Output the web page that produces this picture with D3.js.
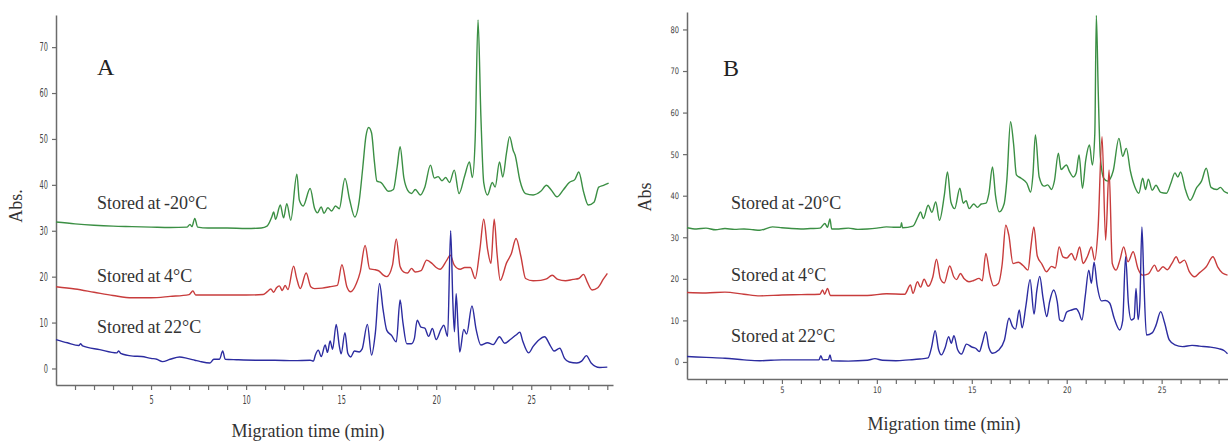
<!DOCTYPE html>
<html>
<head>
<meta charset="utf-8">
<script src="https://cdn.jsdelivr.net/npm/d3@7"></script>
<style>
  html, body { margin: 0; padding: 0; background: #fff; }
  svg { display: block; }
</style>
</head>
<body>
<svg id="chart" width="1228" height="441"></svg>
<script>
// storage temperatures (one trace each)
const labels = ["Stored at -20°C", "Stored at 4°C", "Stored at 22°C"];
const colors = ["#3b8f44", "#c83c3c", "#2c2ca0"];

// axis ticks
const xMajorTicks = [5, 10, 15, 20, 25];
const yTicksA = [0, 10, 20, 30, 40, 50, 60, 70];
const yTicksB = [0, 10, 20, 30, 40, 50, 60, 70, 80];

// panel A traces: [migration time (min), absorbance]
const traceA20 = [[0,31.9],[1,31.5],[2,31.2],[3,31.0],[4,30.9],[5,30.8],[6,30.7],[6.9,30.8],[7.05,31.4],[7.15,30.9],[7.3,32.7],[7.45,30.8],[8,30.6],[9,30.6],[10,30.5],[10.8,30.6],[11.1,31.0],[11.35,33.0],[11.45,34.1],[11.55,32.5],[11.8,35.6],[11.97,32.8],[12.14,35.9],[12.35,32.3],[12.67,42.3],[12.8,36.7],[13.0,35.4],[13.37,39.2],[13.6,34.9],[13.75,33.9],[13.95,35.2],[14.1,33.8],[14.3,35.0],[14.5,34.3],[14.7,35.4],[14.9,34.8],[15.2,41.4],[15.45,36.7],[15.72,33.0],[15.95,36.5],[16.14,43.9],[16.3,50.5],[16.45,52.5],[16.6,51.3],[16.75,45.0],[16.88,40.8],[17.1,40.5],[17.5,38.6],[17.75,39.0],[17.95,44.0],[18.1,48.3],[18.3,41.5],[18.5,38.8],[18.7,38.1],[18.9,39.0],[19.16,37.8],[19.4,39.5],[19.7,44.3],[19.9,41.5],[20.1,41.8],[20.3,40.9],[20.5,41.6],[20.7,40.5],[20.95,43.2],[21.2,38.1],[21.5,42.0],[21.75,45.0],[21.9,41.6],[22.05,50.0],[22.2,75.9],[22.35,55.0],[22.5,40.5],[22.7,37.8],[22.95,40.5],[23.1,39.5],[23.33,45.0],[23.5,41.7],[23.7,47.0],[23.86,50.5],[24.05,47.5],[24.15,46.5],[24.4,41.0],[24.7,38.1],[25.1,37.8],[25.5,38.6],[25.8,39.9],[26.05,38.9],[26.35,37.4],[26.7,39.0],[27.0,40.5],[27.3,41.2],[27.5,42.8],[27.75,38.5],[28.0,35.6],[28.3,36.2],[28.55,39.5],[28.8,39.9],[29.07,40.4]];
const traceA4 = [[0,17.8],[1,17.3],[2,16.6],[3,15.9],[4,15.4],[5,15.4],[6,15.7],[7,16.1],[7.1,16.5],[7.2,16.9],[7.35,16.0],[8,16.0],[9,16.0],[10,16.0],[10.9,16.1],[11.1,16.7],[11.3,17.3],[11.45,16.6],[11.6,17.6],[11.75,18.0],[11.9,17.0],[12.05,18.1],[12.2,17.2],[12.5,22.3],[12.65,19.8],[12.85,17.4],[13.16,20.8],[13.4,17.8],[13.6,17.4],[14.0,17.5],[14.4,17.8],[14.8,18.1],[15.04,22.6],[15.3,17.8],[15.5,16.7],[15.8,18.5],[16.0,21.0],[16.26,26.8],[16.5,21.7],[16.8,21.5],[17.0,21.2],[17.2,20.4],[17.4,20.0],[17.7,22.5],[17.9,28.2],[18.1,22.2],[18.3,21.0],[18.5,20.8],[18.7,21.8],[18.9,21.0],[19.2,21.3],[19.5,23.6],[19.8,22.8],[20.0,22.0],[20.2,21.6],[20.56,23.6],[20.74,24.7],[20.95,22.5],[21.26,21.6],[21.5,22.0],[21.8,22.0],[22.05,19.6],[22.3,26.0],[22.5,32.5],[22.7,26.0],[22.88,22.9],[23.05,32.5],[23.2,25.0],[23.37,19.2],[23.7,23.0],[23.95,25.0],[24.2,28.3],[24.45,24.5],[24.7,19.6],[25.1,19.1],[25.5,19.2],[25.8,19.5],[26.1,20.3],[26.4,19.4],[26.8,19.1],[27.2,19.4],[27.5,19.6],[27.75,20.5],[27.95,18.8],[28.2,17.1],[28.5,17.6],[28.8,19.5],[29.0,20.7]];
const traceA22 = [[0,6.3],[0.6,5.6],[1.2,5.0],[1.3,5.4],[1.4,4.9],[2.3,4.1],[3.2,3.4],[3.3,3.8],[3.4,3.3],[4.05,2.7],[4.5,2.6],[5.0,2.2],[5.3,2.0],[5.6,1.5],[6.0,2.0],[6.5,2.5],[6.9,2.2],[7.3,1.8],[7.6,1.5],[8.1,1.2],[8.3,2.0],[8.6,2.0],[8.77,3.8],[8.9,2.0],[9.5,1.9],[10.5,1.8],[11.5,1.8],[12.5,1.7],[13.37,1.8],[13.54,1.6],[13.65,3.0],[13.8,4.0],[13.95,2.6],[14.16,5.1],[14.28,3.5],[14.42,6.0],[14.55,4.2],[14.74,9.6],[14.9,5.0],[15.0,3.2],[15.2,7.8],[15.35,3.3],[15.5,2.5],[15.7,3.8],[15.95,3.6],[16.1,4.2],[16.38,9.6],[16.6,2.9],[16.8,7.8],[17.02,18.5],[17.2,13.0],[17.4,8.3],[17.65,7.2],[17.9,5.8],[18.1,14.9],[18.25,10.0],[18.45,5.4],[18.7,5.4],[18.85,6.5],[19.0,10.5],[19.2,9.0],[19.4,8.8],[19.6,7.0],[19.8,8.7],[20.0,6.3],[20.25,8.5],[20.4,9.4],[20.6,7.0],[20.76,30.0],[20.88,14.0],[20.96,8.0],[21.05,16.3],[21.15,9.0],[21.24,3.6],[21.45,8.5],[21.6,7.5],[21.88,13.6],[22.1,8.5],[22.35,5.1],[22.7,5.6],[23.0,5.2],[23.33,6.9],[23.6,5.5],[23.9,6.3],[24.2,7.3],[24.4,7.9],[24.55,6.0],[24.86,3.4],[25.1,4.8],[25.4,6.2],[25.7,6.9],[26.0,5.0],[26.2,3.8],[26.5,4.4],[26.75,2.2],[27.0,1.4],[27.4,1.2],[27.65,1.6],[27.9,2.8],[28.15,1.2],[28.6,0.2],[29.0,0.3]];

// panel B traces
const traceB20 = [[0,32.3],[0.5,32.0],[1,32.2],[1.5,31.8],[2,32.1],[2.5,31.9],[3,32.0],[3.5,31.8],[3.84,31.7],[4.5,32.5],[5,32.3],[5.5,32.1],[6,32.0],[6.5,32.1],[7.0,32.2],[7.26,33.3],[7.4,32.4],[7.53,34.4],[7.62,32.0],[8,32.0],[8.5,32.2],[9,31.9],[9.5,32.0],[10,32.2],[10.5,32.5],[11,32.4],[11.25,32.4],[11.3,33.5],[11.35,32.3],[11.9,32.7],[12.17,35.0],[12.3,36.1],[12.45,34.5],[12.7,37.7],[12.9,36.0],[13.1,38.5],[13.3,34.1],[13.55,40.0],[13.72,45.7],[13.9,38.5],[14.1,36.9],[14.37,41.8],[14.55,38.2],[14.7,38.8],[14.86,36.9],[15.1,38.0],[15.3,37.2],[15.5,38.0],[15.75,38.2],[15.9,40.5],[16.09,46.9],[16.25,40.0],[16.45,36.1],[16.7,38.0],[16.85,44.0],[17.04,57.8],[17.2,52.5],[17.35,45.0],[17.6,44.2],[17.9,43.0],[18.1,40.9],[18.22,45.0],[18.35,54.6],[18.55,44.5],[18.8,42.3],[19.0,42.6],[19.2,41.5],[19.35,43.5],[19.56,50.2],[19.7,46.3],[19.98,47.4],[20.15,45.8],[20.35,44.5],[20.5,45.5],[20.65,49.8],[20.83,41.8],[21.0,48.5],[21.2,52.2],[21.35,47.4],[21.48,55.0],[21.56,83.4],[21.66,65.0],[21.77,49.4],[21.95,44.2],[22.15,43.5],[22.45,46.0],[22.75,53.8],[22.95,49.5],[23.14,51.4],[23.35,46.0],[23.6,42.0],[23.8,40.6],[24.0,44.2],[24.15,41.5],[24.3,44.0],[24.5,41.3],[24.7,42.5],[24.95,40.8],[25.25,40.6],[25.5,43.2],[25.7,45.5],[25.85,44.5],[26.0,45.7],[26.25,41.5],[26.5,38.9],[26.85,42.0],[27.1,43.5],[27.35,46.6],[27.6,42.0],[27.9,41.5],[28.1,42.0],[28.3,41.0],[28.5,40.6]];
const traceB4 = [[0,16.7],[1,16.6],[2,16.8],[3,16.3],[3.84,15.9],[5,16.1],[6,16.2],[7.0,16.3],[7.14,17.3],[7.25,16.3],[7.4,17.7],[7.55,16.0],[8.5,16.0],[9.5,16.0],[10.5,16.4],[11.47,16.3],[11.77,18.5],[11.9,16.5],[12.14,19.3],[12.3,18.0],[12.49,19.9],[12.7,18.2],[12.95,20.5],[13.14,24.7],[13.35,20.0],[13.55,19.0],[13.84,23.1],[14.05,20.5],[14.2,19.8],[14.4,21.3],[14.6,20.0],[14.85,19.3],[15.1,19.6],[15.38,20.1],[15.55,19.5],[15.74,26.1],[15.95,21.0],[16.15,18.3],[16.4,18.9],[16.6,23.5],[16.79,32.9],[16.95,30.5],[17.17,23.7],[17.45,24.0],[17.7,23.2],[17.96,22.1],[18.12,28.0],[18.27,32.5],[18.45,25.5],[18.7,23.5],[18.93,21.7],[19.2,23.0],[19.4,22.6],[19.6,27.7],[19.8,25.3],[20.0,25.0],[20.25,26.1],[20.45,24.5],[20.68,27.7],[20.86,23.7],[21.1,25.5],[21.3,27.7],[21.47,24.5],[21.65,32.0],[21.86,54.2],[22.05,29.3],[22.23,46.2],[22.4,23.7],[22.6,22.1],[22.8,24.5],[23.0,27.7],[23.23,24.1],[23.5,26.5],[23.75,22.5],[24.0,20.9],[24.3,21.2],[24.63,23.3],[24.8,21.8],[25.07,22.9],[25.3,22.2],[25.55,23.8],[25.77,25.3],[25.95,23.8],[26.2,24.5],[26.45,21.8],[26.74,20.5],[27.0,21.5],[27.35,22.9],[27.7,25.3],[27.95,22.9],[28.2,21.4],[28.47,20.9]];
const traceB22 = [[0,1.3],[1,1.1],[2,0.9],[3,0.5],[3.84,0.3],[5,0.5],[6,0.5],[6.95,0.5],[7.05,1.5],[7.15,0.5],[7.45,0.6],[7.53,1.7],[7.62,0.3],[8.5,0.2],[9.5,0.4],[9.9,0.8],[10.3,0.4],[11,0.3],[11.7,0.5],[12.26,0.7],[12.7,1.0],[12.88,3.5],[13.07,7.5],[13.25,3.0],[13.4,1.7],[13.6,3.5],[13.78,6.1],[13.92,4.5],[14.06,6.3],[14.25,3.0],[14.46,1.9],[14.72,4.3],[15.0,3.6],[15.2,3.3],[15.4,2.5],[15.55,4.5],[15.74,7.3],[15.9,3.5],[16.1,2.1],[16.4,2.8],[16.72,5.3],[16.96,10.5],[17.15,8.5],[17.3,7.9],[17.5,12.5],[17.65,8.2],[17.85,13.5],[18.07,19.8],[18.28,11.5],[18.42,17.0],[18.58,20.6],[18.75,15.5],[18.95,10.9],[19.1,14.5],[19.31,17.3],[19.5,14.5],[19.63,10.1],[19.8,9.8],[20.0,12.0],[20.25,12.5],[20.5,12.8],[20.65,11.8],[20.8,10.1],[20.98,16.0],[21.16,22.1],[21.3,18.9],[21.44,24.0],[21.6,18.5],[21.83,14.7],[22.05,14.8],[22.26,14.2],[22.5,10.5],[22.79,7.7],[22.95,10.0],[23.1,25.3],[23.25,14.0],[23.4,10.1],[23.55,10.5],[23.65,17.7],[23.76,10.2],[23.85,14.0],[23.96,32.5],[24.06,20.0],[24.2,6.5],[24.5,7.0],[24.7,8.8],[24.95,12.1],[25.15,9.5],[25.4,5.3],[25.7,4.1],[26.1,3.7],[26.6,4.0],[27.0,3.8],[27.5,3.6],[28.0,3.2],[28.3,2.7],[28.47,2.0]];

const panels = [
  {
    letter: "A", yTitle: "Abs.", traces: [traceA20, traceA4, traceA22],
    xDomain: [0, 29.3], xRange: [56, 613],
    yDomain: [-3.6, 77], yRange: [385, 15], yTicks: yTicksA,
    tickFont: 12, tickSqueeze: 0.55,
    letterPos: [97, 75], yTitlePos: [22, 206], xTitlePos: [308, 437],
    labelX: 97, labelY: [209, 282, 333],
  },
  {
    letter: "B", yTitle: "Abs", traces: [traceB20, traceB4, traceB22],
    xDomain: [0, 28.6], xRange: [687, 1230],
    yDomain: [-4.1, 84.2], yRange: [379, 12], yTicks: yTicksB,
    tickFont: 9, tickSqueeze: 0.75,
    letterPos: [723, 76], yTitlePos: [651, 197], xTitlePos: [944, 430],
    labelX: 731, labelY: [209, 281, 342],
  },
];

const svg = d3.select("#chart");
const AXIS_COLOR = "#6b6b6b";
const SERIF = "'Liberation Serif', 'DejaVu Serif', serif";

function drawPanel(p) {
  const x = d3.scaleLinear().domain(p.xDomain).range(p.xRange);
  const y = d3.scaleLinear().domain(p.yDomain).range(p.yRange);
  const g = svg.append("g");

  const xAxis = d3.axisBottom(x)
    .tickValues(d3.range(1, Math.floor(p.xDomain[1]) + 1))
    .tickSize(5)
    .tickSizeOuter(0)
    .tickFormat((d) => (xMajorTicks.includes(d) ? d : ""));

  const gx = g.append("g")
    .attr("transform", `translate(0,${p.yRange[0]})`)
    .call(xAxis);

  const yAxis = d3.axisLeft(y)
    .tickValues(p.yTicks)
    .tickSize(4)
    .tickSizeOuter(0);

  const gy = g.append("g")
    .attr("transform", `translate(${p.xRange[0]},0)`)
    .call(yAxis);

  [gx, gy].forEach((ax) => {
    ax.select(".domain").attr("stroke", AXIS_COLOR).attr("stroke-width", 1.5);
    ax.selectAll(".tick line").attr("stroke", AXIS_COLOR).attr("stroke-width", 1.2);
    ax.selectAll(".tick text")
      .attr("fill", "#444")
      .attr("font-family", "'DejaVu Sans', sans-serif")
      .attr("font-size", p.tickFont);
  });
  gx.selectAll(".tick text")
    .attr("y", p.tickFont === 12 ? 10 : 8)
    .attr("transform", `scale(${p.tickSqueeze},1)`);
  gy.selectAll(".tick text")
    .attr("x", -8 / p.tickSqueeze)
    .attr("transform", `scale(${p.tickSqueeze},1)`);

  const line = d3.line()
    .x((d) => x(d[0]))
    .y((d) => y(d[1]))
    .curve(d3.curveMonotoneX);

  p.traces.forEach((trace, i) => {
    g.append("path")
      .datum(trace)
      .attr("fill", "none")
      .attr("stroke", colors[i])
      .attr("stroke-width", 1.4)
      .attr("stroke-linejoin", "round")
      .attr("d", line);
  });

  labels.forEach((label, i) => {
    g.append("text")
      .attr("x", p.labelX)
      .attr("y", p.labelY[i])
      .attr("font-family", SERIF)
      .attr("font-size", 18)
      .attr("word-spacing", -1)
      .attr("fill", "#333")
      .text(label);
  });

  g.append("text")
    .attr("x", p.letterPos[0])
    .attr("y", p.letterPos[1])
    .attr("font-family", SERIF)
    .attr("font-size", 24)
    .attr("fill", "#222")
    .text(p.letter);

  g.append("text")
    .attr("transform", `translate(${p.yTitlePos[0]},${p.yTitlePos[1]}) rotate(-90)`)
    .attr("text-anchor", "middle")
    .attr("font-family", SERIF)
    .attr("font-size", 18)
    .attr("fill", "#333")
    .text(p.yTitle);

  g.append("text")
    .attr("x", p.xTitlePos[0])
    .attr("y", p.xTitlePos[1])
    .attr("text-anchor", "middle")
    .attr("font-family", SERIF)
    .attr("font-size", 18)
    .attr("fill", "#333")
    .text("Migration time (min)");
}

panels.forEach(drawPanel);
</script>
</body>
</html>
